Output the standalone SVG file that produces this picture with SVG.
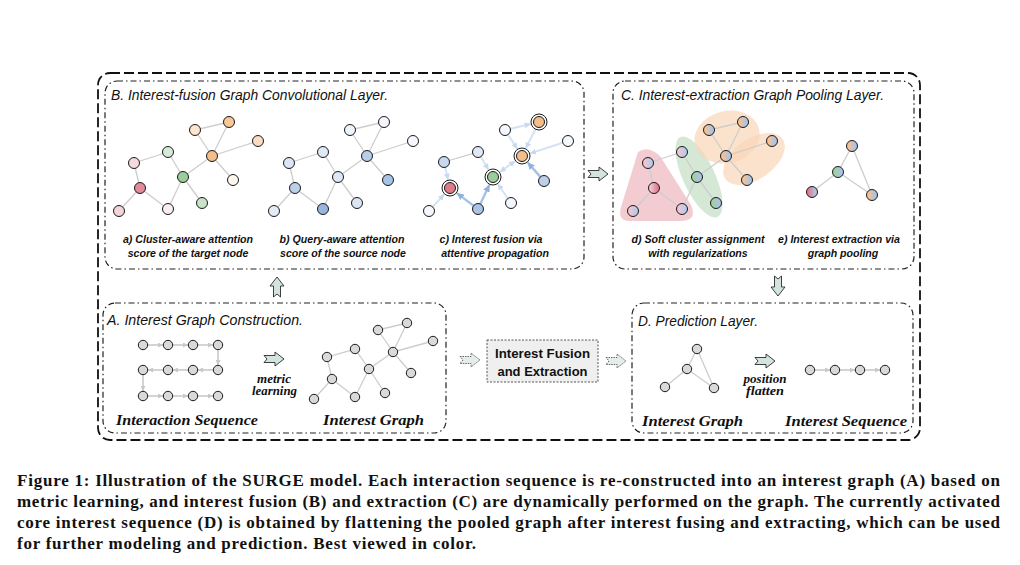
<svg xmlns="http://www.w3.org/2000/svg" width="1020" height="565" viewBox="0 0 1020 565">
<style>
.outer{fill:none;stroke:#111;stroke-width:1.8;stroke-dasharray:10 4}
.panel{fill:none;stroke:#222;stroke-width:1.2;stroke-dasharray:6 3 1.5 3}
.title{font-family:"Liberation Sans",Arial,sans-serif;font-style:italic;font-size:14px;fill:#111}
.sub{font-family:"Liberation Sans",Arial,sans-serif;font-style:italic;font-weight:bold;font-size:10.6px;fill:#111;text-anchor:middle}
.lab{font-family:"Liberation Serif","Times New Roman",serif;font-style:italic;font-weight:bold;font-size:15.5px;fill:#111}
.small{font-family:"Liberation Serif","Times New Roman",serif;font-style:italic;font-weight:bold;font-size:11.5px;fill:#111;text-anchor:middle}
.cap{font-family:"Liberation Serif","Times New Roman",serif;font-weight:bold;font-size:17px;fill:#111}
.e{stroke:#cdcdcd;stroke-width:1.3;fill:none}
.n{stroke:#1a1a1a;stroke-width:1}
.g{fill:#d9d9d9;stroke:#1a1a1a;stroke-width:1}
.la{stroke:#d3e2f4;stroke-width:2;fill:none;marker-end:url(#mL)}
.ha{stroke:#a6c1e6;stroke-width:2.4;fill:none;marker-end:url(#mH)}
.sq{stroke:#d4d4d4;stroke-width:2;fill:none;marker-end:url(#mG)}
.ba{fill:#d3e4dd;stroke:#2a2a2a;stroke-width:0.9}
.bd{fill:#e3eeeb;stroke:#444;stroke-width:0.8;stroke-dasharray:1.5 1}
</style>
<defs>
<marker id="mL" viewBox="0 0 6 6" refX="6" refY="3" markerWidth="6" markerHeight="6" markerUnits="userSpaceOnUse" orient="auto-start-reverse"><path d="M0,0 L6,3 L0,6 z" fill="#c6d9f0"/></marker>
<marker id="mH" viewBox="0 0 6 6" refX="6" refY="3" markerWidth="7" markerHeight="7" markerUnits="userSpaceOnUse" orient="auto-start-reverse"><path d="M0,0 L6,3 L0,6 z" fill="#8fb1df"/></marker>
<marker id="mG" viewBox="0 0 6 6" refX="6" refY="3" markerWidth="5" markerHeight="5" markerUnits="userSpaceOnUse" orient="auto"><path d="M0,0 L6,3 L0,6 z" fill="#c8c8c8"/></marker>
<path id="arr" d="M-10,-3.5 L1,-3.5 L1,-7 L10,0 L1,7 L1,3.5 L-10,3.5 L-7,0 Z"/>
<linearGradient id="gOB"><stop offset="0.2" stop-color="#f6c294"/><stop offset="0.8" stop-color="#aac4e6"/></linearGradient>
<linearGradient id="gGB"><stop offset="0.2" stop-color="#9fcfa2"/><stop offset="0.8" stop-color="#aac4e6"/></linearGradient>
<linearGradient id="gPB"><stop offset="0.2" stop-color="#f2c6cf"/><stop offset="0.8" stop-color="#b4cbea"/></linearGradient>
<linearGradient id="gPR"><stop offset="0.2" stop-color="#f2c6cf"/><stop offset="0.8" stop-color="#df7f8d"/></linearGradient>
<linearGradient id="gRB"><stop offset="0.2" stop-color="#e07d8b"/><stop offset="0.8" stop-color="#aac4e6"/></linearGradient>
</defs>
<rect width="1020" height="565" fill="#fff"/>

<g id="frame">
<rect class="outer" x="98" y="73" width="822" height="367" rx="12"/>
</g>

<!-- Panel B -->
<g id="panelB">
<rect class="panel" x="105" y="81" width="479" height="188" rx="12"/>
<text class="title" x="111" y="100" textLength="277" lengthAdjust="spacingAndGlyphs">B. Interest-fusion Graph Convolutional Layer.</text>
</g>
<g id="graphA_cluster">
<g class="e">
<line x1="195" y1="130" x2="229" y2="122"/><line x1="229" y1="122" x2="212" y2="156"/><line x1="195" y1="130" x2="212" y2="156"/>
<line x1="212" y1="156" x2="258" y2="141"/><line x1="212" y1="156" x2="233" y2="180"/><line x1="212" y1="156" x2="183" y2="177"/>
<line x1="183" y1="177" x2="202" y2="203"/><line x1="183" y1="177" x2="168" y2="152"/><line x1="183" y1="177" x2="168" y2="209"/>
<line x1="168" y1="152" x2="134" y2="163"/><line x1="134" y1="163" x2="140" y2="188"/><line x1="140" y1="188" x2="119" y2="211"/><line x1="140" y1="188" x2="168" y2="209"/>
</g>
<g class="n">
<circle cx="195" cy="130" r="5.5" fill="#fde4cf"/><circle cx="229" cy="122" r="5.5" fill="#f8c796"/><circle cx="258" cy="141" r="5.5" fill="#fbdcc0"/>
<circle cx="212" cy="156" r="5.5" fill="#f4be8a"/><circle cx="233" cy="180" r="5.5" fill="#fdf6ec"/><circle cx="183" cy="177" r="5.5" fill="#9ccc9e"/>
<circle cx="202" cy="203" r="5.5" fill="#c8e3c9"/><circle cx="168" cy="152" r="5.5" fill="#d6ebd6"/><circle cx="134" cy="163" r="5.5" fill="#f6d9de"/>
<circle cx="140" cy="188" r="5.5" fill="#e38b98"/><circle cx="119" cy="211" r="5.5" fill="#f4d3d9"/><circle cx="168" cy="209" r="5.5" fill="#fbeef0"/>
</g>
<text class="sub" x="188" y="243">a) Cluster-aware attention</text>
<text class="sub" x="188" y="257">score of the target node</text>
</g>
<g id="graphB_query" transform="translate(155,0)">
<g class="e">
<line x1="195" y1="130" x2="229" y2="122"/><line x1="229" y1="122" x2="212" y2="156"/><line x1="195" y1="130" x2="212" y2="156"/>
<line x1="212" y1="156" x2="258" y2="141"/><line x1="212" y1="156" x2="233" y2="180"/><line x1="212" y1="156" x2="183" y2="177"/>
<line x1="183" y1="177" x2="202" y2="203"/><line x1="183" y1="177" x2="168" y2="152"/><line x1="183" y1="177" x2="168" y2="209"/>
<line x1="168" y1="152" x2="134" y2="163"/><line x1="134" y1="163" x2="140" y2="188"/><line x1="140" y1="188" x2="119" y2="211"/><line x1="140" y1="188" x2="168" y2="209"/>
</g>
<g class="n">
<circle cx="195" cy="130" r="5.5" fill="#eef3fb"/><circle cx="229" cy="122" r="5.5" fill="#f3f6fc"/><circle cx="258" cy="141" r="5.5" fill="#f5f8fd"/>
<circle cx="212" cy="156" r="5.5" fill="#b7cde9"/><circle cx="233" cy="180" r="5.5" fill="#a9c3e6"/><circle cx="183" cy="177" r="5.5" fill="#dde7f5"/>
<circle cx="202" cy="203" r="5.5" fill="#dbe6f5"/><circle cx="168" cy="152" r="5.5" fill="#dfe8f6"/><circle cx="134" cy="163" r="5.5" fill="#dbe6f5"/>
<circle cx="140" cy="188" r="5.5" fill="#bcd0ea"/><circle cx="119" cy="211" r="5.5" fill="#e3ebf7"/><circle cx="168" cy="209" r="5.5" fill="#98b5e0"/>
</g>
<text class="sub" x="187" y="243">b) Query-aware attention</text>
<text class="sub" x="188" y="257">score of the source node</text>
</g>
<g id="graphC_fusion">
<line x1="478" y1="152" x2="444" y2="162" stroke="#c8c8c8" stroke-width="1.3"/>
<path class="la" d="M510.4,128.7 L530.7,124.0"/>
<path class="la" d="M508.0,134.6 L517.4,148.9"/>
<path class="la" d="M535.4,129.2 L525.8,148.4"/>
<path class="la" d="M562.8,142.7 L530.1,153.4"/>
<path class="ha" d="M540.4,176.9 L527.6,162.4"/>
<path class="la" d="M515.1,161.0 L499.9,172.0" marker-start="url(#mL)"/>
<path class="la" d="M507.9,198.5 L497.8,184.0"/>
<path class="la" d="M480.8,156.7 L488.6,169.7"/>
<path class="la" d="M445.2,167.4 L448.1,179.7"/>
<path class="la" d="M432.7,206.9 L444.3,194.3"/>
<path class="ha" d="M473.6,205.7 L456.8,193.1"/>
<path class="ha" d="M480.3,204.0 L489.4,184.7"/>
<g class="n">
<circle cx="505" cy="130" r="5.5" fill="#f5f8fd"/><circle cx="568" cy="141" r="5.5" fill="#f5f8fd"/>
<circle cx="544" cy="181" r="5.5" fill="#bcd0ea"/><circle cx="511" cy="203" r="5.5" fill="#f3f6fc"/>
<circle cx="478" cy="152" r="5.5" fill="#dfe8f6"/><circle cx="444" cy="162" r="5.5" fill="#c8d8ef"/>
<circle cx="429" cy="211" r="5.5" fill="#f5f8fd"/><circle cx="478" cy="209" r="5.5" fill="#a9c3e6"/>
</g>
<g fill="#fff" stroke="#1a1a1a" stroke-width="1">
<circle cx="539" cy="122" r="8"/><circle cx="522" cy="156" r="8"/><circle cx="493" cy="177" r="8"/><circle cx="450" cy="188" r="8"/>
</g>
<g class="n">
<circle cx="539" cy="122" r="5.5" fill="#f4be8a"/><circle cx="522" cy="156" r="5.5" fill="#f4be8a"/>
<circle cx="493" cy="177" r="5.5" fill="#9ccc9e"/><circle cx="450" cy="188" r="5.5" fill="#e07a88"/>
</g>
<text class="sub" x="491" y="243">c) Interest fusion via</text>
<text class="sub" x="495" y="257">attentive propagation</text>
</g>

<!-- Panel C -->
<g id="panelC">
<rect class="panel" x="613" y="81" width="301" height="188" rx="12"/>
<text class="title" x="621" y="100" textLength="263" lengthAdjust="spacingAndGlyphs">C. Interest-extraction Graph Pooling Layer.</text>
</g>
<g id="graphD_soft">
<path d="M638,152 Q648,145 660,156 L691,205 Q698,221 680,221 L630,221 Q617,221 621,207 Z" fill="#f1c3ca" opacity="0.85"/>
<ellipse cx="699" cy="177" rx="16" ry="44" transform="rotate(-25 699 177)" fill="#cfe5d0" opacity="0.9"/>
<ellipse cx="727" cy="137" rx="33" ry="26" transform="rotate(-15 727 137)" fill="#f9d6b6" opacity="0.7"/>
<ellipse cx="754" cy="159" rx="35" ry="20" transform="rotate(-35 754 159)" fill="#f9d6b6" opacity="0.7"/>
<g class="e">
<line x1="709" y1="130" x2="743" y2="122"/><line x1="743" y1="122" x2="726" y2="156"/><line x1="709" y1="130" x2="726" y2="156"/>
<line x1="726" y1="156" x2="772" y2="141"/><line x1="726" y1="156" x2="747" y2="180"/><line x1="726" y1="156" x2="697" y2="177"/>
<line x1="697" y1="177" x2="716" y2="203"/><line x1="697" y1="177" x2="682" y2="152"/><line x1="697" y1="177" x2="682" y2="209"/>
<line x1="682" y1="152" x2="648" y2="163"/><line x1="648" y1="163" x2="654" y2="188"/><line x1="654" y1="188" x2="633" y2="211"/><line x1="654" y1="188" x2="682" y2="209"/>
</g>
<g class="n">
<circle cx="709" cy="130" r="5.5" fill="url(#gOB)"/><circle cx="743" cy="122" r="5.5" fill="url(#gOB)"/><circle cx="772" cy="141" r="5.5" fill="url(#gOB)"/>
<circle cx="726" cy="156" r="5.5" fill="url(#gOB)"/><circle cx="747" cy="180" r="5.5" fill="url(#gOB)"/><circle cx="697" cy="177" r="5.5" fill="url(#gGB)"/>
<circle cx="716" cy="203" r="5.5" fill="url(#gGB)"/><circle cx="682" cy="152" r="5.5" fill="url(#gPB)"/><circle cx="648" cy="163" r="5.5" fill="url(#gPB)"/>
<circle cx="654" cy="188" r="5.5" fill="url(#gPR)"/><circle cx="633" cy="211" r="5.5" fill="url(#gPB)"/><circle cx="682" cy="209" r="5.5" fill="url(#gPB)"/>
</g>
<text class="sub" x="698" y="243">d) Soft cluster assignment</text>
<text class="sub" x="698" y="257">with regularizations</text>
</g>
<g id="graphE_pool">
<g class="e">
<line x1="852" y1="146" x2="838" y2="172"/><line x1="838" y1="172" x2="812" y2="192"/><line x1="838" y1="172" x2="872" y2="195"/><line x1="852" y1="146" x2="872" y2="195"/>
</g>
<g class="n">
<circle cx="852" cy="146" r="5.5" fill="url(#gOB)"/><circle cx="838" cy="172" r="5.5" fill="url(#gGB)"/>
<circle cx="812" cy="192" r="5.5" fill="url(#gRB)"/><circle cx="872" cy="195" r="5.5" fill="url(#gOB)"/>
</g>
<text class="sub" x="839" y="243">e) Interest extraction via</text>
<text class="sub" x="843" y="257">graph pooling</text>
</g>

<!-- Panel A -->
<g id="panelA">
<rect class="panel" x="103" y="303" width="343" height="130" rx="12"/>
<text class="title" x="107" y="325" textLength="196" lengthAdjust="spacingAndGlyphs">A. Interest Graph Construction.</text>
</g>
<g id="interactionSeq">
<path class="sq" d="M148,345 L163,345"/><path class="sq" d="M173,345 L188,345"/><path class="sq" d="M198,345 L213,345"/>
<path class="sq" d="M218,350 L218,365"/>
<path class="sq" d="M213,370 L198,370"/><path class="sq" d="M188,370 L173,370"/><path class="sq" d="M163,370 L148,370"/>
<path class="sq" d="M143,375 L143,391"/>
<path class="sq" d="M148,396 L163,396"/><path class="sq" d="M173,396 L188,396"/><path class="sq" d="M198,396 L213,396"/>
<g class="g">
<circle cx="143" cy="345" r="4.7"/><circle cx="168" cy="345" r="4.7"/><circle cx="193" cy="345" r="4.7"/><circle cx="218" cy="345" r="4.7"/>
<circle cx="143" cy="370" r="4.7"/><circle cx="168" cy="370" r="4.7"/><circle cx="193" cy="370" r="4.7"/><circle cx="218" cy="370" r="4.7"/>
<circle cx="143" cy="396" r="4.7"/><circle cx="168" cy="396" r="4.7"/><circle cx="193" cy="396" r="4.7"/><circle cx="218" cy="396" r="4.7"/>
</g>
<text class="lab" x="116" y="425" textLength="142" lengthAdjust="spacingAndGlyphs">Interaction Sequence</text>
</g>
<g id="metricArrow">
<use href="#arr" class="ba" transform="translate(274,359)"/>
<text class="small" x="274" y="382.5" textLength="34" lengthAdjust="spacingAndGlyphs">metric</text>
<text class="small" x="274.5" y="395" textLength="45" lengthAdjust="spacingAndGlyphs">learning</text>
</g>
<g id="interestGraphA">
<g class="e">
<line x1="378" y1="330" x2="407" y2="323"/><line x1="407" y1="323" x2="393" y2="352"/><line x1="378" y1="330" x2="393" y2="352"/>
<line x1="393" y1="352" x2="433" y2="341"/><line x1="393" y1="352" x2="411" y2="373"/><line x1="393" y1="352" x2="369" y2="369"/>
<line x1="369" y1="369" x2="385" y2="393"/><line x1="369" y1="369" x2="355" y2="349"/><line x1="369" y1="369" x2="355" y2="397"/>
<line x1="355" y1="349" x2="327" y2="357"/><line x1="327" y1="357" x2="332" y2="379"/><line x1="332" y1="379" x2="314" y2="399"/><line x1="332" y1="379" x2="355" y2="397"/>
</g>
<g class="g">
<circle cx="378" cy="330" r="4.7"/><circle cx="407" cy="323" r="4.7"/><circle cx="433" cy="341" r="4.7"/><circle cx="393" cy="352" r="4.7"/>
<circle cx="411" cy="373" r="4.7"/><circle cx="369" cy="369" r="4.7"/><circle cx="385" cy="393" r="4.7"/><circle cx="355" cy="349" r="4.7"/>
<circle cx="327" cy="357" r="4.7"/><circle cx="332" cy="379" r="4.7"/><circle cx="314" cy="399" r="4.7"/><circle cx="355" cy="397" r="4.7"/>
</g>
<text class="lab" x="323" y="425" textLength="101" lengthAdjust="spacingAndGlyphs">Interest Graph</text>
</g>

<!-- Middle -->
<g id="fusionBox">
<rect x="487" y="340" width="111" height="42" fill="#efefef" stroke="#444" stroke-width="0.9" stroke-dasharray="2 1.5"/>
<text x="542.5" y="358" text-anchor="middle" font-family="'Liberation Sans',Arial,sans-serif" font-weight="bold" font-size="13" fill="#111" textLength="95" lengthAdjust="spacingAndGlyphs">Interest Fusion</text>
<text x="542.5" y="376" text-anchor="middle" font-family="'Liberation Sans',Arial,sans-serif" font-weight="bold" font-size="13" fill="#111" textLength="90" lengthAdjust="spacingAndGlyphs">and Extraction</text>
</g>

<!-- Panel D -->
<g id="panelD">
<rect class="panel" x="632" y="303" width="281" height="130" rx="12"/>
<text class="title" x="638" y="326" textLength="120" lengthAdjust="spacingAndGlyphs">D. Prediction Layer.</text>
</g>
<g id="interestGraphD">
<g class="e">
<line x1="697" y1="349" x2="687" y2="369"/><line x1="687" y1="369" x2="665" y2="387"/><line x1="687" y1="369" x2="714" y2="388"/><line x1="697" y1="349" x2="714" y2="388"/>
</g>
<g class="g">
<circle cx="697" cy="349" r="4.7"/><circle cx="687" cy="369" r="4.7"/><circle cx="665" cy="387" r="4.7"/><circle cx="714" cy="388" r="4.7"/>
</g>
<text class="lab" x="642" y="426" textLength="101" lengthAdjust="spacingAndGlyphs">Interest Graph</text>
</g>
<g id="flattenArrow">
<use href="#arr" class="ba" transform="translate(765,361)"/>
<text class="small" x="765" y="382.5" textLength="43" lengthAdjust="spacingAndGlyphs">position</text>
<text class="small" x="765" y="395" textLength="38" lengthAdjust="spacingAndGlyphs">flatten</text>
</g>
<g id="interestSeq">
<path class="sq" d="M815,370 L830,370"/><path class="sq" d="M840,370 L855,370"/><path class="sq" d="M865,370 L880,370"/>
<g class="g">
<circle cx="810" cy="370" r="4.7"/><circle cx="835" cy="370" r="4.7"/><circle cx="860" cy="370" r="4.7"/><circle cx="885" cy="370" r="4.7"/>
</g>
<text class="lab" x="785" y="426" textLength="122" lengthAdjust="spacingAndGlyphs">Interest Sequence</text>
</g>

<!-- Connectors between panels -->
<g id="connectors">
<use href="#arr" class="ba" transform="translate(598,174)"/>
<use href="#arr" class="ba" transform="translate(277,287) rotate(-90)"/>
<use href="#arr" class="ba" transform="translate(778,286) rotate(90)"/>
<use href="#arr" class="bd" transform="translate(470,360)"/>
<use href="#arr" class="bd" transform="translate(616,361)"/>
</g>

<!-- Caption -->
<g id="caption">
<text class="cap" x="17" y="486" textLength="983" lengthAdjust="spacing">Figure 1: Illustration of the SURGE model. Each interaction sequence is re-constructed into an interest graph (A) based on</text>
<text class="cap" x="17" y="507" textLength="983" lengthAdjust="spacing">metric learning, and interest fusion (B) and extraction (C) are dynamically performed on the graph. The currently activated</text>
<text class="cap" x="17" y="528" textLength="983" lengthAdjust="spacing">core interest sequence (D) is obtained by flattening the pooled graph after interest fusing and extracting, which can be used</text>
<text class="cap" x="17" y="549" textLength="459" lengthAdjust="spacing">for further modeling and prediction. Best viewed in color.</text>
</g>
</svg>
